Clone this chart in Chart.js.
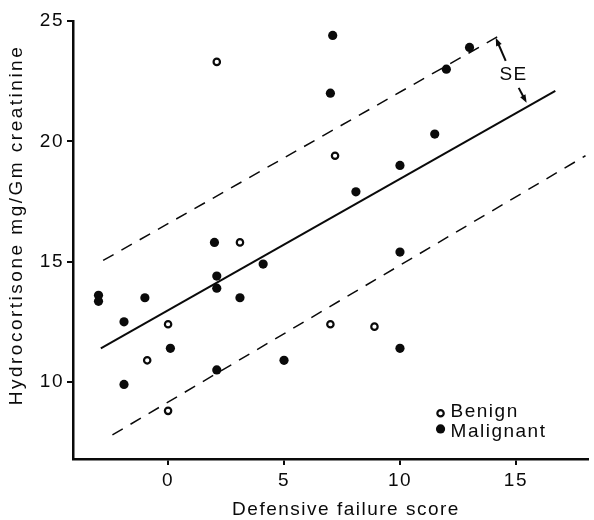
<!DOCTYPE html>
<html>
<head>
<meta charset="utf-8">
<script src="https://cdn.jsdelivr.net/npm/chart.js@4.4.1/dist/chart.umd.min.js"></script>
<style>
  body { margin: 0; background: #fff; }
  #wrap { width: 594px; height: 520px; }
</style>
</head>
<body>
<div id="wrap"><canvas id="plot" width="594" height="520"></canvas></div>
<script>
// values
const xTicks = [0, 5, 10, 15];
const yTicks = [10, 15, 20, 25];

const benignX = [2.1, 3.1, 7.2, 0, -0.9, 0, 7, 8.9];
const benignY = [23.3, 15.8, 19.4, 12.4, 10.9, 8.8, 12.4, 12.3];

const malignantX = [7.1, 13, 12, 7, 11.5, 10, 8.1, 2, 10, 4.1, 2.1, 2.1, -3, -3, -1, 3.1, -1.9, 0.1, 5, 2.1, -1.9, 10];
const malignantY = [24.4, 23.9, 23.0, 22.0, 20.3, 19.0, 17.9, 15.8, 15.4, 14.9, 14.4, 13.9, 13.6, 13.35, 13.5, 13.5, 12.5, 11.4, 10.9, 10.5, 9.9, 11.4];

// regression line and +/- SE lines (end points)
const fitX = [-2.9, 16.7];
const fitY = [11.4, 22.1];
const upperX = [-2.8, 14.4];
const upperY = [15.05, 24.45];
const lowerX = [-2.4, 18];
const lowerY = [7.8, 19.4];

// SE arrows: [tailX, tailY, tipX, tipY]
const seArrows = [[14.56, 23.34, 14.13, 24.3], [15.12, 22.22, 15.46, 21.6]];
const seLabel = [14.9, 22.76];

const legendItems = ['Benign', 'Malignant'];
const legendAt = [11.75, 8.7, 8.05];

const xTitle = 'Defensive failure score';
const yTitle = 'Hydrocortisone mg/Gm creatinine';

const pts = (xs, ys) => xs.map((x, i) => ({x: x, y: ys[i]}));
const ink = '#0a0a0a';
const FONT = 'Liberation Sans, Arial, Helvetica, sans-serif';

const spacing = {
    id: 'spacing',
    beforeLayout(chart) { chart.ctx.letterSpacing = '1.5px'; },
    beforeDraw(chart) { chart.ctx.letterSpacing = '1.5px'; }
};

function arrow(ctx, x1, y1, x2, y2) {
    const a = Math.atan2(y2 - y1, x2 - x1);
    const len = 8, hw = 3;
    ctx.beginPath();
    ctx.moveTo(x1, y1);
    ctx.lineTo(x2 - Math.cos(a) * len * 0.6, y2 - Math.sin(a) * len * 0.6);
    ctx.stroke();
    ctx.beginPath();
    ctx.moveTo(x2, y2);
    ctx.lineTo(x2 - Math.cos(a) * len - Math.sin(a) * hw, y2 - Math.sin(a) * len + Math.cos(a) * hw);
    ctx.lineTo(x2 - Math.cos(a) * len + Math.sin(a) * hw, y2 - Math.sin(a) * len - Math.cos(a) * hw);
    ctx.closePath();
    ctx.fill();
}

const extras = {
    id: 'extras',
    afterDatasetsDraw(chart) {
        const ctx = chart.ctx, xs = chart.scales.x, ys = chart.scales.y;
        ctx.save();
        ctx.strokeStyle = ink;
        ctx.fillStyle = ink;
        ctx.lineWidth = 2;
        seArrows.forEach(a => {
            arrow(ctx, xs.getPixelForValue(a[0]), ys.getPixelForValue(a[1]),
                  xs.getPixelForValue(a[2]), ys.getPixelForValue(a[3]));
        });
        ctx.font = '19px ' + FONT;
        ctx.textAlign = 'center';
        ctx.textBaseline = 'middle';
        ctx.fillText('SE', xs.getPixelForValue(seLabel[0]), ys.getPixelForValue(seLabel[1]));

        // legend
        const lx = xs.getPixelForValue(legendAt[0]);
        const y1 = ys.getPixelForValue(legendAt[1]);
        const y2 = ys.getPixelForValue(legendAt[2]);
        ctx.beginPath();
        ctx.arc(lx, y1, 3.2, 0, Math.PI * 2);
        ctx.fillStyle = '#fff';
        ctx.fill();
        ctx.lineWidth = 2.2;
        ctx.stroke();
        ctx.beginPath();
        ctx.arc(lx, y2, 4.6, 0, Math.PI * 2);
        ctx.fillStyle = ink;
        ctx.fill();
        ctx.textAlign = 'left';
        ctx.fillText(legendItems[0], lx + 10, y1 - 2);
        ctx.fillText(legendItems[1], lx + 10, y2 + 3);

        // axis titles
        ctx.textAlign = 'center';
        ctx.fillText(xTitle, 346, 510);
        ctx.letterSpacing = '2.5px';
        ctx.translate(17, 225);
        ctx.rotate(-Math.PI / 2);
        ctx.fillText(yTitle, 0, 0);
        ctx.restore();
    }
};

const tickFont = {family: FONT, size: 19};

new Chart(document.getElementById('plot'), {
    type: 'scatter',
    data: {
        datasets: [
            {
                label: 'Benign',
                data: pts(benignX, benignY),
                pointRadius: 3.2,
                pointBorderWidth: 2.2,
                pointBackgroundColor: '#fff',
                pointBorderColor: ink
            },
            {
                label: 'Malignant',
                data: pts(malignantX, malignantY),
                pointRadius: 4.6,
                pointBorderWidth: 0,
                pointBackgroundColor: ink,
                pointBorderColor: ink
            },
            {
                type: 'line',
                data: pts(fitX, fitY),
                borderColor: ink,
                borderWidth: 2,
                pointRadius: 0
            },
            {
                type: 'line',
                data: pts(upperX, upperY),
                borderColor: ink,
                borderWidth: 1.5,
                borderDash: [12, 9],
                pointRadius: 0
            },
            {
                type: 'line',
                data: pts(lowerX, lowerY),
                borderColor: ink,
                borderWidth: 1.5,
                borderDash: [12, 9],
                pointRadius: 0
            }
        ]
    },
    options: {
        responsive: false,
        animation: false,
        layout: { padding: { left: 0, top: 21, right: 4, bottom: 0 } },
        plugins: {
            legend: { display: false },
            tooltip: { enabled: false }
        },
        scales: {
            x: {
                type: 'linear',
                min: -4.1,
                max: 18.1,
                afterBuildTicks: s => { s.ticks = xTicks.map(v => ({value: v})); },
                afterFit: s => { s.height = 61; },
                grid: { drawOnChartArea: false, drawTicks: true, tickLength: 6, lineWidth: 2, color: ink },
                border: { display: true, width: 2.5, color: ink },
                ticks: { color: ink, font: tickFont, padding: 4, maxRotation: 0 }
            },
            y: {
                min: 6.8,
                max: 25,
                afterBuildTicks: s => { s.ticks = yTicks.map(v => ({value: v})); },
                afterFit: s => { s.width = 73; },
                grid: { drawOnChartArea: false, drawTicks: true, tickLength: 6, lineWidth: 2, color: ink },
                border: { display: true, width: 2.5, color: ink },
                ticks: { color: ink, font: tickFont, padding: 3 }
            }
        }
    },
    plugins: [spacing, extras]
});
</script>
</body>
</html>
